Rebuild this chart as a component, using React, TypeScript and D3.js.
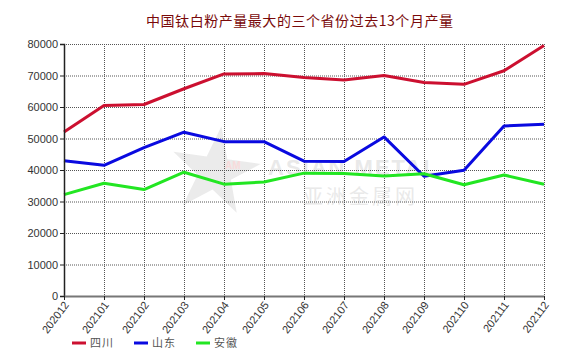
import React, { useRef, useEffect } from "react";
import * as d3 from "d3";

const months = [
  "202012", "202101", "202102", "202103", "202104", "202105", "202106",
  "202107", "202108", "202109", "202110", "202111", "202112",
];
const sichuan = [52100, 60500, 60800, 65800, 70500, 70600, 69400, 68600, 70000, 67800, 67200, 71500, 79500];
const shandong = [42900, 41500, 47100, 52000, 49000, 49000, 42800, 42700, 50500, 38000, 39900, 54000, 54500];
const anhui = [32200, 35800, 33800, 39300, 35500, 36200, 39000, 38900, 38100, 38800, 35300, 38400, 35500];
const seriesNames = ["四川", "山东", "安徽"];
const seriesColors = ["#cc1030", "#0a0ae0", "#22e622"];
const yTicks = [0, 10000, 20000, 30000, 40000, 50000, 60000, 70000, 80000];

const width = 579;
const height = 363;
const margin = { top: 44, right: 35, bottom: 67, left: 64 };
const latin = "'Liberation Sans', Arial, sans-serif";
const cjk = "'Noto Sans CJK SC', 'Liberation Sans', sans-serif";

const App: React.FC = () => {
  const gRef = useRef<SVGGElement | null>(null);

  useEffect(() => {
    if (!gRef.current) return;
    const g = d3.select(gRef.current);
    g.selectAll("*").remove();

    const innerWidth = width - margin.left - margin.right;
    const innerHeight = height - margin.top - margin.bottom;

    const x = d3.scalePoint<string>().domain(months).range([0, innerWidth]);
    const y = d3.scaleLinear().domain([0, 80000]).range([innerHeight, 0]);

    const chart = g.append("g").attr("transform", `translate(${margin.left},${margin.top})`);

    // watermark
    const wm = chart.append("g").attr("opacity", 0.45);
    wm.append("path")
      .attr("d", d3.symbol(d3.symbolStar, 2400)())
      .attr("transform", `translate(${215 - margin.left},${172 - margin.top}) rotate(8)`)
      .attr("fill", "#d4d4d4");
    wm.append("text")
      .attr("x", 225 - margin.left)
      .attr("y", 169 - margin.top)
      .attr("font-family", latin)
      .attr("font-size", 10)
      .attr("font-weight", "bold")
      .attr("fill", "#f0b0b0")
      .text("AM");
    wm.append("text")
      .attr("x", 268 - margin.left)
      .attr("y", 175 - margin.top)
      .attr("font-family", latin)
      .attr("font-size", 22)
      .attr("font-weight", "bold")
      .attr("letter-spacing", 2)
      .attr("fill", "#cfcfcf")
      .text("ASIAN METAL");
    wm.append("text")
      .attr("x", 303 - margin.left)
      .attr("y", 204 - margin.top)
      .attr("font-family", cjk)
      .attr("font-size", 20)
      .attr("letter-spacing", 3)
      .attr("fill", "#cfcfcf")
      .text("亚洲金属网");

    // grid
    chart.append("g")
      .selectAll("line")
      .data(yTicks.filter((t) => t > 0))
      .join("line")
      .attr("x1", 0)
      .attr("x2", innerWidth)
      .attr("y1", (d) => y(d) + 0.5)
      .attr("y2", (d) => y(d) + 0.5)
      .attr("stroke", "#555")
      .attr("stroke-dasharray", "1,1");
    chart.append("g")
      .selectAll("line")
      .data(months.slice(1))
      .join("line")
      .attr("x1", (d) => x(d)! + 0.5)
      .attr("x2", (d) => x(d)! + 0.5)
      .attr("y1", 0)
      .attr("y2", innerHeight)
      .attr("stroke", "#555")
      .attr("stroke-dasharray", "1,1");

    // series
    const line = d3
      .line<number>()
      .x((d, i) => x(months[i])!)
      .y((d) => y(d));
    [sichuan, shandong, anhui].forEach((values, i) => {
      chart.append("path")
        .datum(values)
        .attr("d", line)
        .attr("fill", "none")
        .attr("stroke", seriesColors[i])
        .attr("stroke-width", 3)
        .attr("stroke-linejoin", "round");
    });

    // y axis
    const yAxis = chart.append("g")
      .call(d3.axisLeft(y).tickValues(yTicks).tickSize(4).tickPadding(2).tickFormat(d3.format("d")));
    yAxis.select(".domain").attr("stroke", "#222").attr("stroke-width", 1.5);
    yAxis.selectAll(".tick line").attr("stroke", "#222");
    yAxis.selectAll(".tick text")
      .attr("fill", "#333")
      .attr("font-family", latin)
      .attr("font-size", 11);

    // x axis
    const xAxis = chart.append("g")
      .attr("transform", `translate(0,${innerHeight})`)
      .call(d3.axisBottom(x).tickSize(4).tickSizeOuter(0));
    xAxis.select(".domain").attr("stroke", "#777").attr("stroke-width", 2);
    xAxis.selectAll(".tick line").attr("stroke", "#222");
    xAxis.selectAll<SVGTextElement, string>(".tick text")
      .attr("fill", "#333")
      .attr("font-family", latin)
      .attr("font-size", 11)
      .attr("text-anchor", "end")
      .attr("dy", 0)
      .attr("y", 0)
      .attr("transform", "translate(5,9) rotate(-53)");

    // legend
    const legend = g.append("g").attr("transform", "translate(72,343)");
    seriesNames.forEach((name, i) => {
      const item = legend.append("g").attr("transform", `translate(${i * 62},0)`);
      item.append("line")
        .attr("x1", 0)
        .attr("x2", 14)
        .attr("stroke", seriesColors[i])
        .attr("stroke-width", 3);
      item.append("text")
        .attr("x", 18)
        .attr("y", 4)
        .attr("font-family", cjk)
        .attr("font-size", 11)
        .attr("letter-spacing", 1)
        .attr("fill", "#555")
        .text(name);
    });

    // title
    g.append("text")
      .attr("x", 146)
      .attr("y", 26)
      .attr("font-family", cjk)
      .attr("font-size", 14)
      .attr("textLength", 307)
      .attr("lengthAdjust", "spacing")
      .attr("fill", "#7a0a0a")
      .text("中国钛白粉产量最大的三个省份过去13个月产量");
  }, []);

  return (
    <svg
      width={width}
      height={height}
      style={{ position: "absolute", left: 0, top: 0, background: "#fff" }}
    >
      <g ref={gRef} />
    </svg>
  );
};

export default App;
